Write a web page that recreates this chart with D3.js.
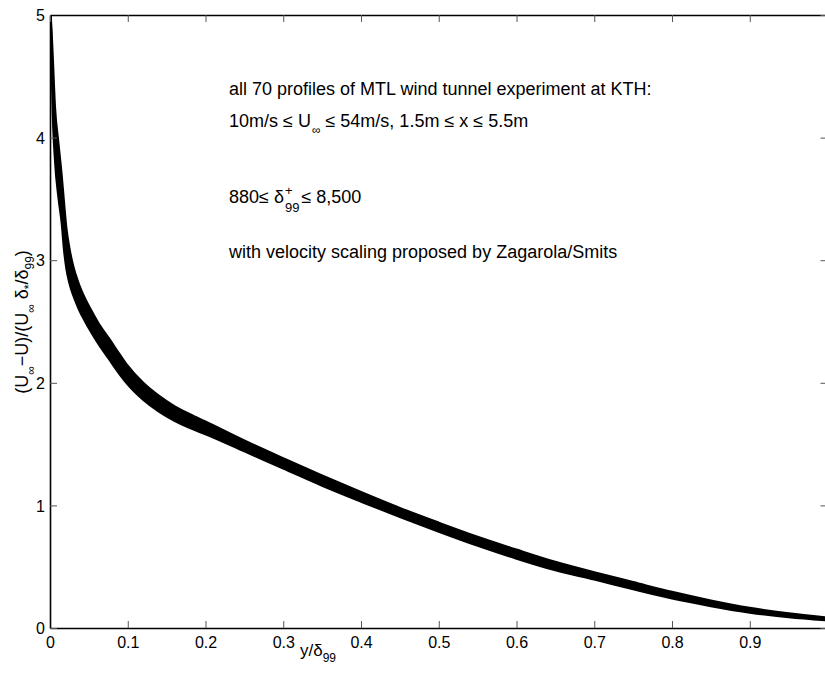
<!DOCTYPE html>
<html>
<head>
<meta charset="utf-8">
<script src="https://cdn.jsdelivr.net/npm/d3@7"></script>
<style>
  body { margin: 0; background: #fff; }
  text { font-family: "Liberation Sans", Arial, Helvetica, sans-serif; }
</style>
</head>
<body>
<div id="chart"></div>
<script>
// y/delta99 sample positions shared by the profiles
var yPos = [0.001, 0.003, 0.0065, 0.011, 0.015, 0.018, 0.021, 0.025, 0.03, 0.037, 0.045, 0.055, 0.065, 0.075, 0.09, 0.1,
            0.12, 0.14, 0.16, 0.18, 0.2, 0.25, 0.3, 0.35, 0.4, 0.45, 0.5, 0.55, 0.6, 0.65, 0.7, 0.75, 0.8, 0.85, 0.9, 0.95, 1.0];

// defect velocity: upper edge, middle, lower edge
var profileUpper = [5.0, 4.75, 4.25, 3.95, 3.7, 3.48, 3.27, 3.1, 2.95, 2.81, 2.69, 2.57, 2.46, 2.37, 2.23, 2.14,
                    2.0, 1.895, 1.81, 1.745, 1.685, 1.53, 1.385, 1.245, 1.11, 0.98, 0.86, 0.745, 0.64, 0.54, 0.455, 0.375,
                    0.295, 0.225, 0.165, 0.12, 0.085];
var profileMid   = [5.0, 4.5, 4.0, 3.72, 3.48, 3.26, 3.07, 2.93, 2.81, 2.69, 2.58, 2.47, 2.37, 2.28, 2.14, 2.055,
                    1.93, 1.83, 1.745, 1.68, 1.62, 1.475, 1.335, 1.20, 1.07, 0.94, 0.82, 0.71, 0.605, 0.51, 0.425, 0.345,
                    0.27, 0.20, 0.145, 0.10, 0.072];
var profileLower = [5.0, 4.3, 3.8, 3.5, 3.3, 3.08, 2.93, 2.81, 2.71, 2.6, 2.5, 2.39, 2.29, 2.2, 2.065, 1.985,
                    1.86, 1.765, 1.69, 1.63, 1.58, 1.44, 1.30, 1.16, 1.03, 0.905, 0.785, 0.67, 0.565, 0.47, 0.395, 0.315,
                    0.24, 0.178, 0.125, 0.088, 0.062];

var xTicks = [0, 0.1, 0.2, 0.3, 0.4, 0.5, 0.6, 0.7, 0.8, 0.9];
var yTicks = [0, 1, 2, 3, 4, 5];

var width = 825, height = 681;
var plotLeft = 50, plotRight = 827.5, plotTop = 15, plotBottom = 628;

var svg = d3.select("#chart").append("svg")
    .attr("width", width)
    .attr("height", height);

var x = d3.scaleLinear().domain([0, 1]).range([plotLeft, plotRight]);
var y = d3.scaleLinear().domain([0, 5]).range([plotBottom, plotTop]);

svg.append("clipPath").attr("id", "plotclip")
    .append("rect")
    .attr("x", plotLeft).attr("y", plotTop)
    .attr("width", plotRight - plotLeft).attr("height", plotBottom - plotTop);

var plot = svg.append("g").attr("clip-path", "url(#plotclip)");

// the 70 profiles overlap into one dark band: fill between its edges
var band = d3.area()
    .x(function (d, i) { return x(yPos[i]); })
    .y0(function (d, i) { return y(profileLower[i]); })
    .y1(function (d) { return y(d); })
    .curve(d3.curveMonotoneX);

plot.append("path")
    .datum(profileUpper)
    .attr("d", band)
    .attr("fill", "#000");

var line = d3.line()
    .x(function (d, i) { return x(yPos[i]); })
    .y(function (d) { return y(d); })
    .curve(d3.curveMonotoneX);

plot.selectAll("path.profile")
    .data([profileUpper, profileMid, profileLower]).enter()
    .append("path")
    .attr("class", "profile")
    .attr("d", line)
    .attr("fill", "none")
    .attr("stroke", "#000")
    .attr("stroke-width", 2);

// axes: ticks on all four sides, pointing in
var bottomAxis = d3.axisBottom(x).tickValues(xTicks).tickSizeInner(-7).tickSizeOuter(0)
    .tickFormat(function (d) { return d === 0 ? "0" : d3.format(".1f")(d); });
var leftAxis = d3.axisLeft(y).tickValues(yTicks).tickSizeInner(-7).tickSizeOuter(0)
    .tickFormat(d3.format("d"));

var gx = svg.append("g").attr("transform", "translate(0," + plotBottom + ")").call(bottomAxis);
var gy = svg.append("g").attr("transform", "translate(" + plotLeft + ",0)").call(leftAxis);
var gxt = svg.append("g").attr("transform", "translate(0," + plotTop + ")")
    .call(d3.axisTop(x).tickValues(xTicks).tickSizeInner(-7).tickSizeOuter(0).tickFormat(""));
var gyr = svg.append("g").attr("transform", "translate(" + plotRight + ",0)")
    .call(d3.axisRight(y).tickValues(yTicks).tickSizeInner(-7).tickSizeOuter(0).tickFormat(""));

[gx, gy, gxt, gyr].forEach(function (g) {
    g.select(".domain").attr("stroke", "#000").attr("stroke-width", 1.6);
    g.selectAll(".tick line").attr("stroke", "#555").attr("stroke-width", 1);
    g.selectAll(".tick text").attr("font-size", 16).attr("fill", "#000")
        .style("font-family", "'Liberation Sans', Arial, sans-serif");
});
gy.selectAll(".tick text").attr("dy", "0.36em").attr("x", -5);
gx.selectAll(".tick text").attr("y", 9);

// annotations
var note = svg.append("g").attr("font-size", 18).attr("fill", "#000");

note.append("text").attr("x", 229).attr("y", 95)
    .text("all 70 profiles of MTL wind tunnel experiment at KTH:");

var t2 = note.append("text").attr("x", 229).attr("y", 127);
t2.append("tspan").text("10m/s \u2264 U");
t2.append("tspan").attr("font-size", 12).attr("dy", 7).attr("dx", 1).text("\u221e");
t2.append("tspan").attr("dy", -7).text(" \u2264 54m/s, 1.5m \u2264 x \u2264 5.5m");

var t3 = note.append("text").attr("x", 229).attr("y", 203).text("880\u2264 \u03b4");
var t3end = 229 + t3.node().getComputedTextLength() + 1;
note.append("text").attr("x", t3end).attr("y", 195).attr("font-size", 13).text("+");
var sub99 = note.append("text").attr("x", t3end).attr("y", 212).attr("font-size", 13).text("99");
var s99end = t3end + sub99.node().getComputedTextLength();
note.append("text").attr("x", s99end + 2).attr("y", 203).text(" \u2264 8,500");

note.append("text").attr("x", 229).attr("y", 258)
    .text("with velocity scaling proposed by Zagarola/Smits");

// axis labels
var xl = svg.append("text").attr("x", 300).attr("y", 656).attr("font-size", 17);
xl.append("tspan").text("y/\u03b4");
xl.append("tspan").attr("font-size", 12).attr("dy", 6).text("99");

var yl = svg.append("text")
    .attr("transform", "translate(28,322) rotate(-90)")
    .attr("text-anchor", "middle")
    .attr("font-size", 18);
yl.append("tspan").text("(U");
yl.append("tspan").attr("font-size", 12).attr("dy", 7).text("\u221e");
yl.append("tspan").attr("dy", -7).text("\u2212U)/(U");
yl.append("tspan").attr("font-size", 12).attr("dy", 7).text("\u221e");
yl.append("tspan").attr("dy", -7).text(" \u03b4");
yl.append("tspan").attr("font-size", 12).attr("dy", 5).text("*");
yl.append("tspan").attr("dy", -5).text("/\u03b4");
yl.append("tspan").attr("font-size", 12).attr("dy", 6).text("99");
yl.append("tspan").attr("dy", -6).text(")");
</script>
</body>
</html>
